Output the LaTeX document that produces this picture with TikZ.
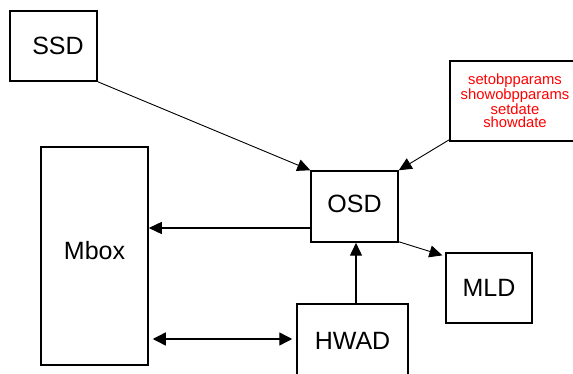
\documentclass[tikz,border=0pt]{standalone}
\usepackage{fontspec}
\setmainfont{Liberation Sans}
\usetikzlibrary{arrows.meta,calc}
\begin{document}
\begin{tikzpicture}[x=1pt,y=-1pt,
  box/.style={draw,line width=1.5pt,rectangle,inner sep=0pt,font=\fontsize{25}{25}\selectfont},
  thin/.style={line width=0.9pt,-{Triangle[length=13pt,width=12pt]}},
  thick/.style={line width=1.4pt,-{Triangle[length=13pt,width=12pt]}}]
\useasboundingbox (0,0) rectangle (573,374);
\node[box,minimum width=87pt,minimum height=70pt] (SSD) at (53.5,46) {\hspace{9pt}SSD};
\node[box,minimum width=107pt,minimum height=218pt] (Mbox) at (94.5,256) {\raisebox{12pt}{Mbox}};
\node[box,minimum width=87pt,minimum height=71pt] (OSD) at (354.5,206.5) {\raisebox{6pt}{OSD}};
\node[box,minimum width=86pt,minimum height=70pt] (MLD) at (489,288) {MLD};
\node[box,minimum width=111pt,minimum height=74pt] (HWAD) at (352.5,341) {HWAD};
\node[box,minimum width=126pt,minimum height=80pt,text=red,align=center,
      font=\fontsize{14.8}{13.5}\selectfont] (CMD) at (513,101)
      {\hspace{4pt}setobpparams\\\hspace{4pt}showobpparams\\\hspace{4pt}setdate\\\hspace{4pt}showdate};
\coordinate (osdw) at ([yshift=-21.5pt]OSD.west);
\coordinate (hwn) at ([xshift=3.5pt]HWAD.north);
\coordinate (hww) at ([yshift=2pt]HWAD.west);
\draw[thin] (SSD.south east) -- (OSD.north west);
\draw[thin] ([yshift=2pt]CMD.south west) -- (OSD.north east);
\draw[thick] (osdw) -- (Mbox.east |- osdw);
\draw[thick] (hwn) -- (hwn |- OSD.south);
\draw[thick,{Triangle[length=13pt,width=13pt]}-{Triangle[length=13pt,width=13pt]},shorten <=4pt,shorten >=4pt]
  (Mbox.east |- hww) -- (hww);
\draw[thin,shorten >=3pt] ([yshift=1pt]OSD.south east) -- ([yshift=-4pt]MLD.north west);
\end{tikzpicture}
\end{document}
